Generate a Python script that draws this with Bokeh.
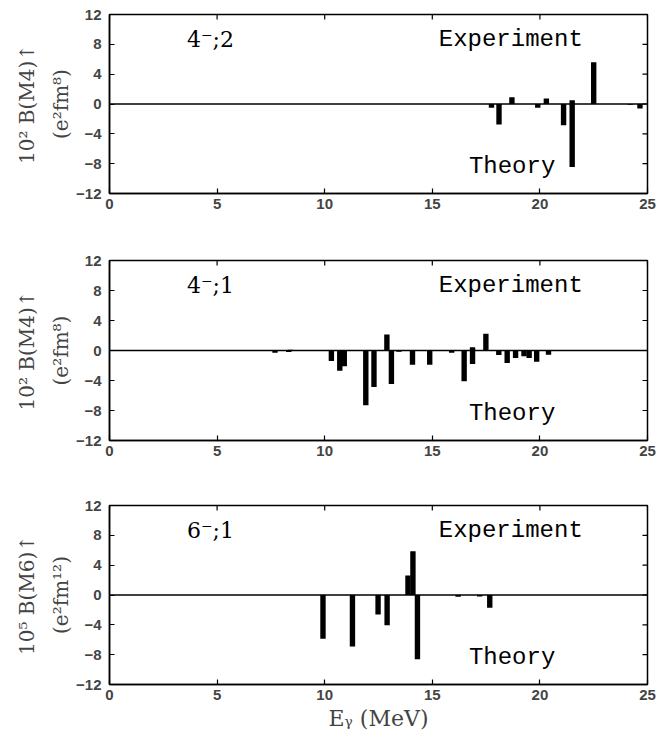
import math
from bokeh.plotting import figure
from bokeh.models import FixedTicker, Span, Label, Range1d
from bokeh.layouts import column
from bokeh.embed import file_html
from bokeh.resources import INLINE

# ---------------- data ----------------
x_ticks = [0, 5, 10, 15, 20, 25]
y_ticks = [-12, -8, -4, 0, 4, 8, 12]

# panel 1 : 4-;2
p1_exp_E = [18.7, 20.3, 21.5, 22.5]
p1_exp_B = [0.9, 0.75, 0.5, 5.6]
p1_th_E = [17.75, 18.1, 19.9, 21.1, 21.5, 24.2, 24.65]
p1_th_B = [-0.5, -2.75, -0.5, -2.85, -8.45, -0.1, -0.6]

# panel 2 : 4-;1
p2_exp_E = [8.4, 12.89, 16.87, 17.49]
p2_exp_B = [0.1, 2.15, 0.45, 2.25]
p2_th_E = [7.69, 8.33, 10.31, 10.70, 10.91, 11.91, 12.29, 13.10, 13.45, 14.08,
           14.88, 15.9, 16.48, 16.87, 18.09, 18.48, 18.87, 19.26, 19.5, 19.85, 20.4]
p2_th_B = [-0.3, -0.2, -1.4, -2.7, -2.1, -7.3, -4.85, -4.45, -0.15, -1.9,
           -1.9, -0.3, -4.1, -1.8, -0.6, -1.65, -1.0, -0.75, -1.0, -1.5, -0.55]

# panel 3 : 6-;1
p3_exp_E = [13.87, 14.10]
p3_exp_B = [2.6, 5.85]
p3_th_E = [9.92, 11.29, 12.48, 12.90, 14.31, 16.2, 17.2, 17.67]
p3_th_B = [-5.85, -6.9, -2.6, -4.05, -8.6, -0.25, -0.2, -1.7]

tags = ["4\u207b;2", "4\u207b;1", "6\u207b;1"]
ylabels = ["10\u00b2 B(M4)\u2191\n(e\u00b2fm\u2078)",
           "10\u00b2 B(M4)\u2191\n(e\u00b2fm\u2078)",
           "10\u2075 B(M6)\u2191\n(e\u00b2fm\u00b9\u00b2)"]
xlabel = "E\u1d67 (MeV)"
exp_text = "Experiment"
th_text = "Theory"

BAR_W = 0.25
TICK_FONT = "Liberation Sans"
SERIF = "DejaVu Serif"
MONO = "Liberation Mono"


def make_panel(exp_E, exp_B, th_E, th_B, tag, ylab, height, btop, bbot, show_xlabel):
    p = figure(width=662, height=height, x_range=Range1d(x_ticks[0], x_ticks[-1]),
               y_range=Range1d(y_ticks[0], y_ticks[-1]),
               output_backend="svg", toolbar_location=None,
               min_border_left=109, min_border_right=15,
               min_border_top=btop, min_border_bottom=bbot)
    p.grid.visible = False
    p.outline_line_color = "black"
    p.outline_line_width = 1.5
    p.outline_line_alpha = 1.0
    p.background_fill_color = "white"
    p.border_fill_color = "white"

    xa = p.xaxis[0]
    xa.ticker = FixedTicker(ticks=x_ticks)
    xa.major_tick_in = 5
    xa.major_tick_out = 0
    xa.minor_tick_line_color = None
    xa.axis_line_width = 1.5
    xa.major_tick_line_width = 1.2
    xa.major_label_text_font = TICK_FONT
    xa.major_label_text_font_size = "15px"
    xa.major_label_text_font_style = "bold"
    xa.major_label_standoff = 5
    if show_xlabel:
        xa.axis_label = xlabel
        xa.axis_label_text_font = SERIF
        xa.axis_label_text_font_size = "22px"
        xa.axis_label_text_font_style = "normal"
        xa.axis_label_standoff = 3

    ya = p.yaxis[0]
    ya.ticker = FixedTicker(ticks=y_ticks)
    ya.major_tick_in = 5
    ya.major_tick_out = 0
    ya.minor_tick_line_color = None
    ya.axis_line_width = 1.5
    ya.major_tick_line_width = 1.2
    ya.major_label_text_font = TICK_FONT
    ya.major_label_text_font_size = "15px"
    ya.major_label_text_font_style = "bold"
    ya.major_label_standoff = 8
    ya.major_label_overrides = {t: ("\u2212" + str(-t)) for t in y_ticks if t < 0}
    ya.axis_label = ylab
    ya.axis_label_text_font = SERIF
    ya.axis_label_text_font_size = "20px"
    ya.axis_label_text_font_style = "normal"
    ya.axis_label_text_line_height = 1.4
    ya.axis_label_standoff = 0

    # mirrored inward ticks on the right and top edges
    p.ray(x=[x_ticks[-1]] * len(y_ticks), y=y_ticks, length=5, length_units="screen",
          angle=math.pi, line_color="black", line_width=1.2)
    p.ray(x=x_ticks, y=[y_ticks[-1]] * len(x_ticks), length=5, length_units="screen",
          angle=-math.pi / 2, line_color="black", line_width=1.2)

    p.add_layout(Span(location=0, dimension="width", line_color="black", line_width=1.4))

    p.vbar(x=exp_E, top=exp_B, bottom=0, width=BAR_W, fill_color="black", line_color=None)
    p.vbar(x=th_E, top=0, bottom=th_B, width=BAR_W, fill_color="black", line_color=None)

    p.add_layout(Label(x=3.6, y=8.7, text=tag, text_font=SERIF, text_font_size="22px",
                       text_baseline="middle", text_align="left", text_color="black"))
    p.add_layout(Label(x=15.3, y=8.7, text=exp_text, text_font=MONO, text_font_size="24px",
                       text_baseline="middle", text_align="left", text_color="black"))
    p.add_layout(Label(x=16.7, y=-8.4, text=th_text, text_font=MONO, text_font_size="24px",
                       text_baseline="middle", text_align="left", text_color="black"))
    return p


f1 = make_panel(p1_exp_E, p1_exp_B, p1_th_E, p1_th_B, tags[0], ylabels[0], 253, 14, 60, False)
f2 = make_panel(p2_exp_E, p2_exp_B, p2_th_E, p2_th_B, tags[1], ylabels[1], 245, 7, 58, False)
f3 = make_panel(p3_exp_E, p3_exp_B, p3_th_E, p3_th_B, tags[2], ylabels[2], 236, 7, 50, True)

layout = column(f1, f2, f3, spacing=0)
open("out.html", "w").write(file_html(layout, INLINE))
